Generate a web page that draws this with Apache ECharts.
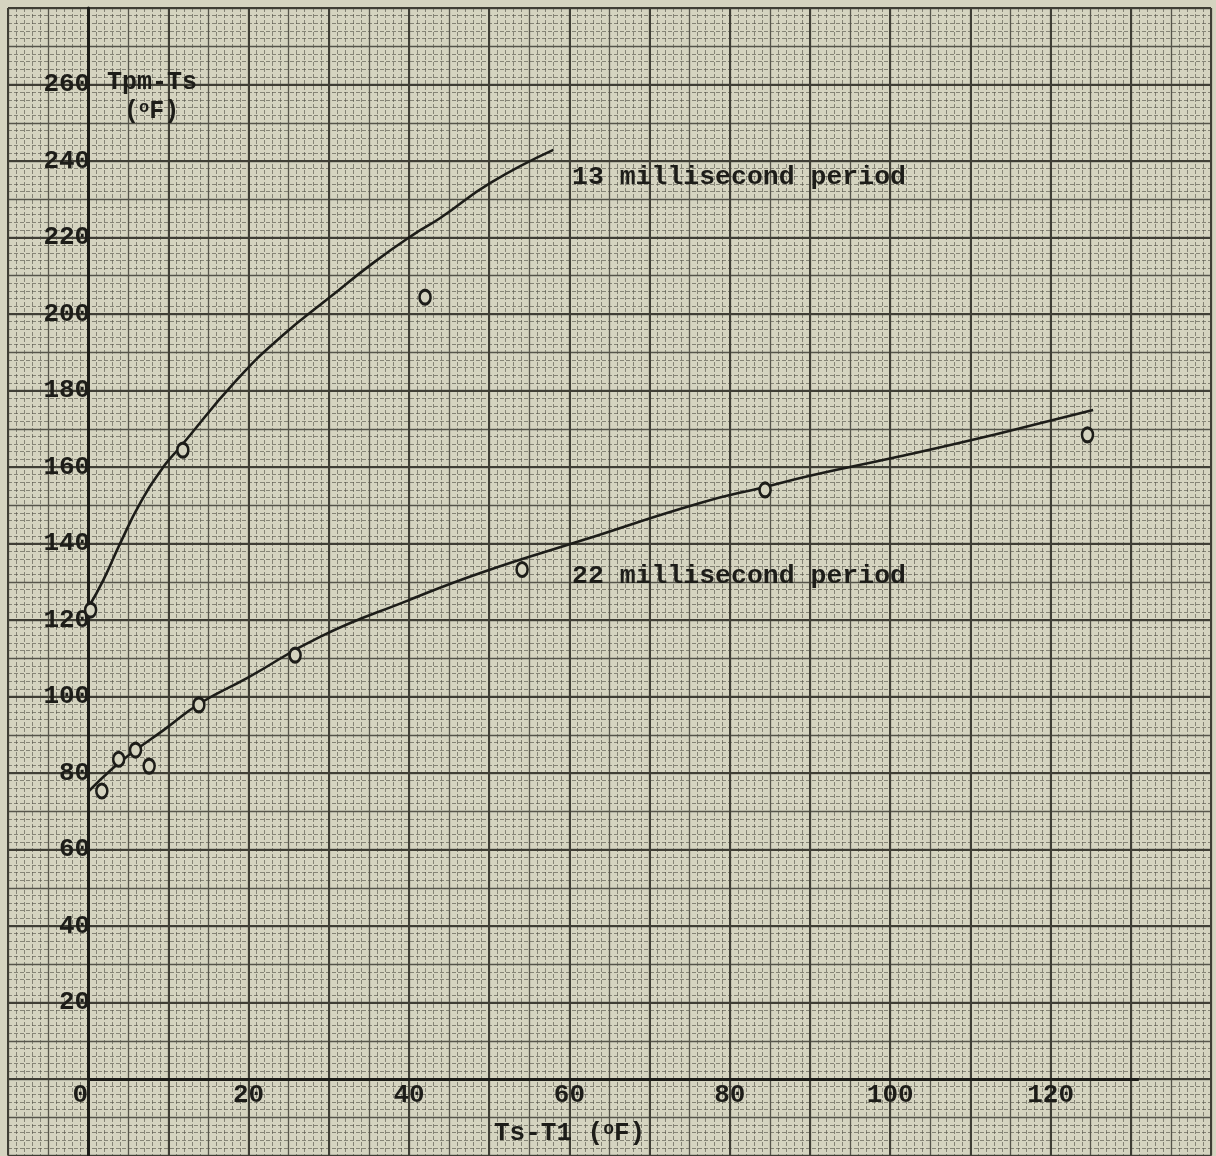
<!DOCTYPE html>
<html>
<head>
<meta charset="utf-8">
<script src="https://cdn.jsdelivr.net/npm/echarts@6/dist/echarts.min.js"></script>
<style>
  html, body { margin: 0; padding: 0; background: #d5d4c0; }
  #chart { width: 1216px; height: 1156px; }
</style>
</head>
<body>
<div id="chart"></div>
<script>
// tick labels shown on the axes
const xTickLabels = [0, 20, 40, 60, 80, 100, 120];
const yTickLabels = [20, 40, 60, 80, 100, 120, 140, 160, 180, 200, 220, 240, 260];

// measured points (Ts-T1, Tpm-Ts)
const points13ms = [[0.3, 122.6], [11.8, 164.4], [42.0, 204.4]];
const points22ms = [
  [1.7, 75.3], [3.8, 83.6], [5.9, 86.0], [7.6, 81.8], [13.8, 97.8],
  [25.8, 110.8], [54.1, 133.2], [84.4, 154.0], [124.6, 168.4]
];

// hand drawn curves
const curve13ms = [
  [0, 123.2], [1.9, 130.5], [4.0, 140.1], [6.5, 150.6], [9.4, 160.1],
  [11.5, 165.3], [18.5, 182.7], [24.3, 194.5], [30.2, 204.5],
  [35.5, 213.3], [40.5, 220.7], [43.9, 225.1], [50.1, 234.2], [58.0, 242.9]
];
const curve22ms = [
  [0, 75.1], [3.1, 81.3], [5.6, 85.5], [9.4, 91.2], [14.0, 98.3],
  [19.8, 104.8], [28.9, 115.6], [40.0, 125.2], [48.9, 132.3], [61.7, 140.9],
  [76.3, 150.6], [84.4, 154.8], [90.4, 157.9], [100.4, 162.4],
  [110.3, 167.1], [120.3, 172.3], [125.3, 174.9]
];

const xAxisEnd = 131;

const paper = "#d5d4c0";
const ink = "#1d1d19";
const mono = "'Liberation Mono', 'DejaVu Sans Mono', monospace";

// grid box: x from -10 to 140, y from -20 to 280
const gridLeft = 8, gridRight = 5, gridTop = 8, gridBottom = 0.5;
const plotW = 1216 - gridLeft - gridRight;
const plotH = 1156 - gridTop - gridBottom;

const chart = echarts.init(document.getElementById("chart"));

// one helper axis per grid-paper line weight
const paperAxis = (interval, lineStyle, z) => ({
  type: "value",
  interval: interval,
  z: z,
  axisLine: { show: false, onZero: false },
  axisTick: { show: false },
  axisLabel: { show: false },
  splitLine: { show: true, lineStyle: lineStyle },
});

const heavy = { color: "#3f3e35", width: 2 };
const medium = { color: "#56554b", width: 1.3 };
const fine = { color: "rgba(80,79,68,0.6)", width: 1, type: [4, 2] };

const xPaper = (interval, lineStyle, z) =>
  Object.assign(paperAxis(interval, lineStyle, z), { min: -10, max: 140 });
const yPaper = (interval, lineStyle, z) =>
  Object.assign(paperAxis(interval, lineStyle, z), { min: -20, max: 280 });

const option = {
  backgroundColor: paper,
  animation: false,
  grid: {
    left: gridLeft, right: gridRight, top: gridTop, bottom: gridBottom,
    containLabel: false, outerBoundsMode: "none",
  },
  xAxis: [
    Object.assign(xPaper(10, heavy, 3), {
      position: "bottom",
      offset: -(20 / 300) * plotH,
      axisLabel: {
        show: true,
        margin: 3,
        color: ink,
        fontFamily: mono,
        fontWeight: "bold",
        fontSize: 26,
        formatter: (v) => {
          if (!xTickLabels.includes(v)) return "";
          return v === 0 ? "{z|0}" : String(v);
        },
        rich: {
          z: { fontFamily: mono, fontWeight: "bold", fontSize: 26, color: ink, padding: [0, 16, 0, 0] },
        },
      },
    }),
    xPaper(5, medium, 2),
    xPaper(1, fine, 1),
  ],
  yAxis: [
    Object.assign(yPaper(20, heavy, 3), {
      position: "left",
      offset: -(10 / 150) * plotW,
      axisLine: { show: true, onZero: false, lineStyle: { color: ink, width: 3 } },
      axisLabel: {
        show: true,
        margin: -2,
        color: ink,
        fontFamily: mono,
        fontWeight: "bold",
        fontSize: 26,
        formatter: (v) => (yTickLabels.includes(v) ? String(v) : ""),
      },
    }),
    yPaper(10, medium, 2),
    yPaper(2, fine, 1),
  ],
  graphic: [
    {
      type: "text", left: 107, top: 70, z: 10,
      style: { text: "Tpm-Ts", font: "bold 25px " + mono, fill: ink },
    },
    {
      type: "text", left: 124, top: 99, z: 10,
      style: {
        text: "({s|o}F)",
        font: "bold 25px " + mono,
        fill: ink,
        rich: { s: { font: "bold 17px " + mono, fill: ink, verticalAlign: "top", padding: [0, 0, 6, 0] } },
      },
    },
    {
      type: "text", left: 572, top: 164, z: 10,
      style: { text: "13 millisecond period", font: "bold 26.5px " + mono, fill: ink },
    },
    {
      type: "text", left: 572, top: 563, z: 10,
      style: { text: "22 millisecond period", font: "bold 26.5px " + mono, fill: ink },
    },
    {
      type: "text", left: 494, top: 1120, z: 10,
      style: {
        text: "Ts-T1 ({s|o}F)",
        font: "bold 26px " + mono,
        fill: ink,
        rich: { s: { font: "bold 18px " + mono, fill: ink, verticalAlign: "top", padding: [0, 0, 6, 0] } },
      },
    },
  ],
  series: [
    {
      name: "13 millisecond period",
      type: "line",
      data: curve13ms,
      smooth: 0.5,
      showSymbol: false,
      lineStyle: { color: ink, width: 2.6 },
      z: 5,
      markLine: {
        silent: true,
        symbol: "none",
        label: { show: false },
        lineStyle: { color: ink, width: 3, type: "solid" },
        data: [[{ coord: [0, 0] }, { coord: [xAxisEnd, 0] }]],
      },
    },
    {
      name: "22 millisecond period",
      type: "line",
      data: curve22ms,
      smooth: 0.5,
      showSymbol: false,
      lineStyle: { color: ink, width: 2.6 },
      z: 5,
    },
    {
      type: "scatter",
      data: points13ms.concat(points22ms),
      symbol: "circle",
      symbolSize: [11, 14],
      itemStyle: { color: paper, borderColor: ink, borderWidth: 2.8, opacity: 1 },
      z: 6,
    },
  ],
};

chart.setOption(option);
</script>
</body>
</html>
